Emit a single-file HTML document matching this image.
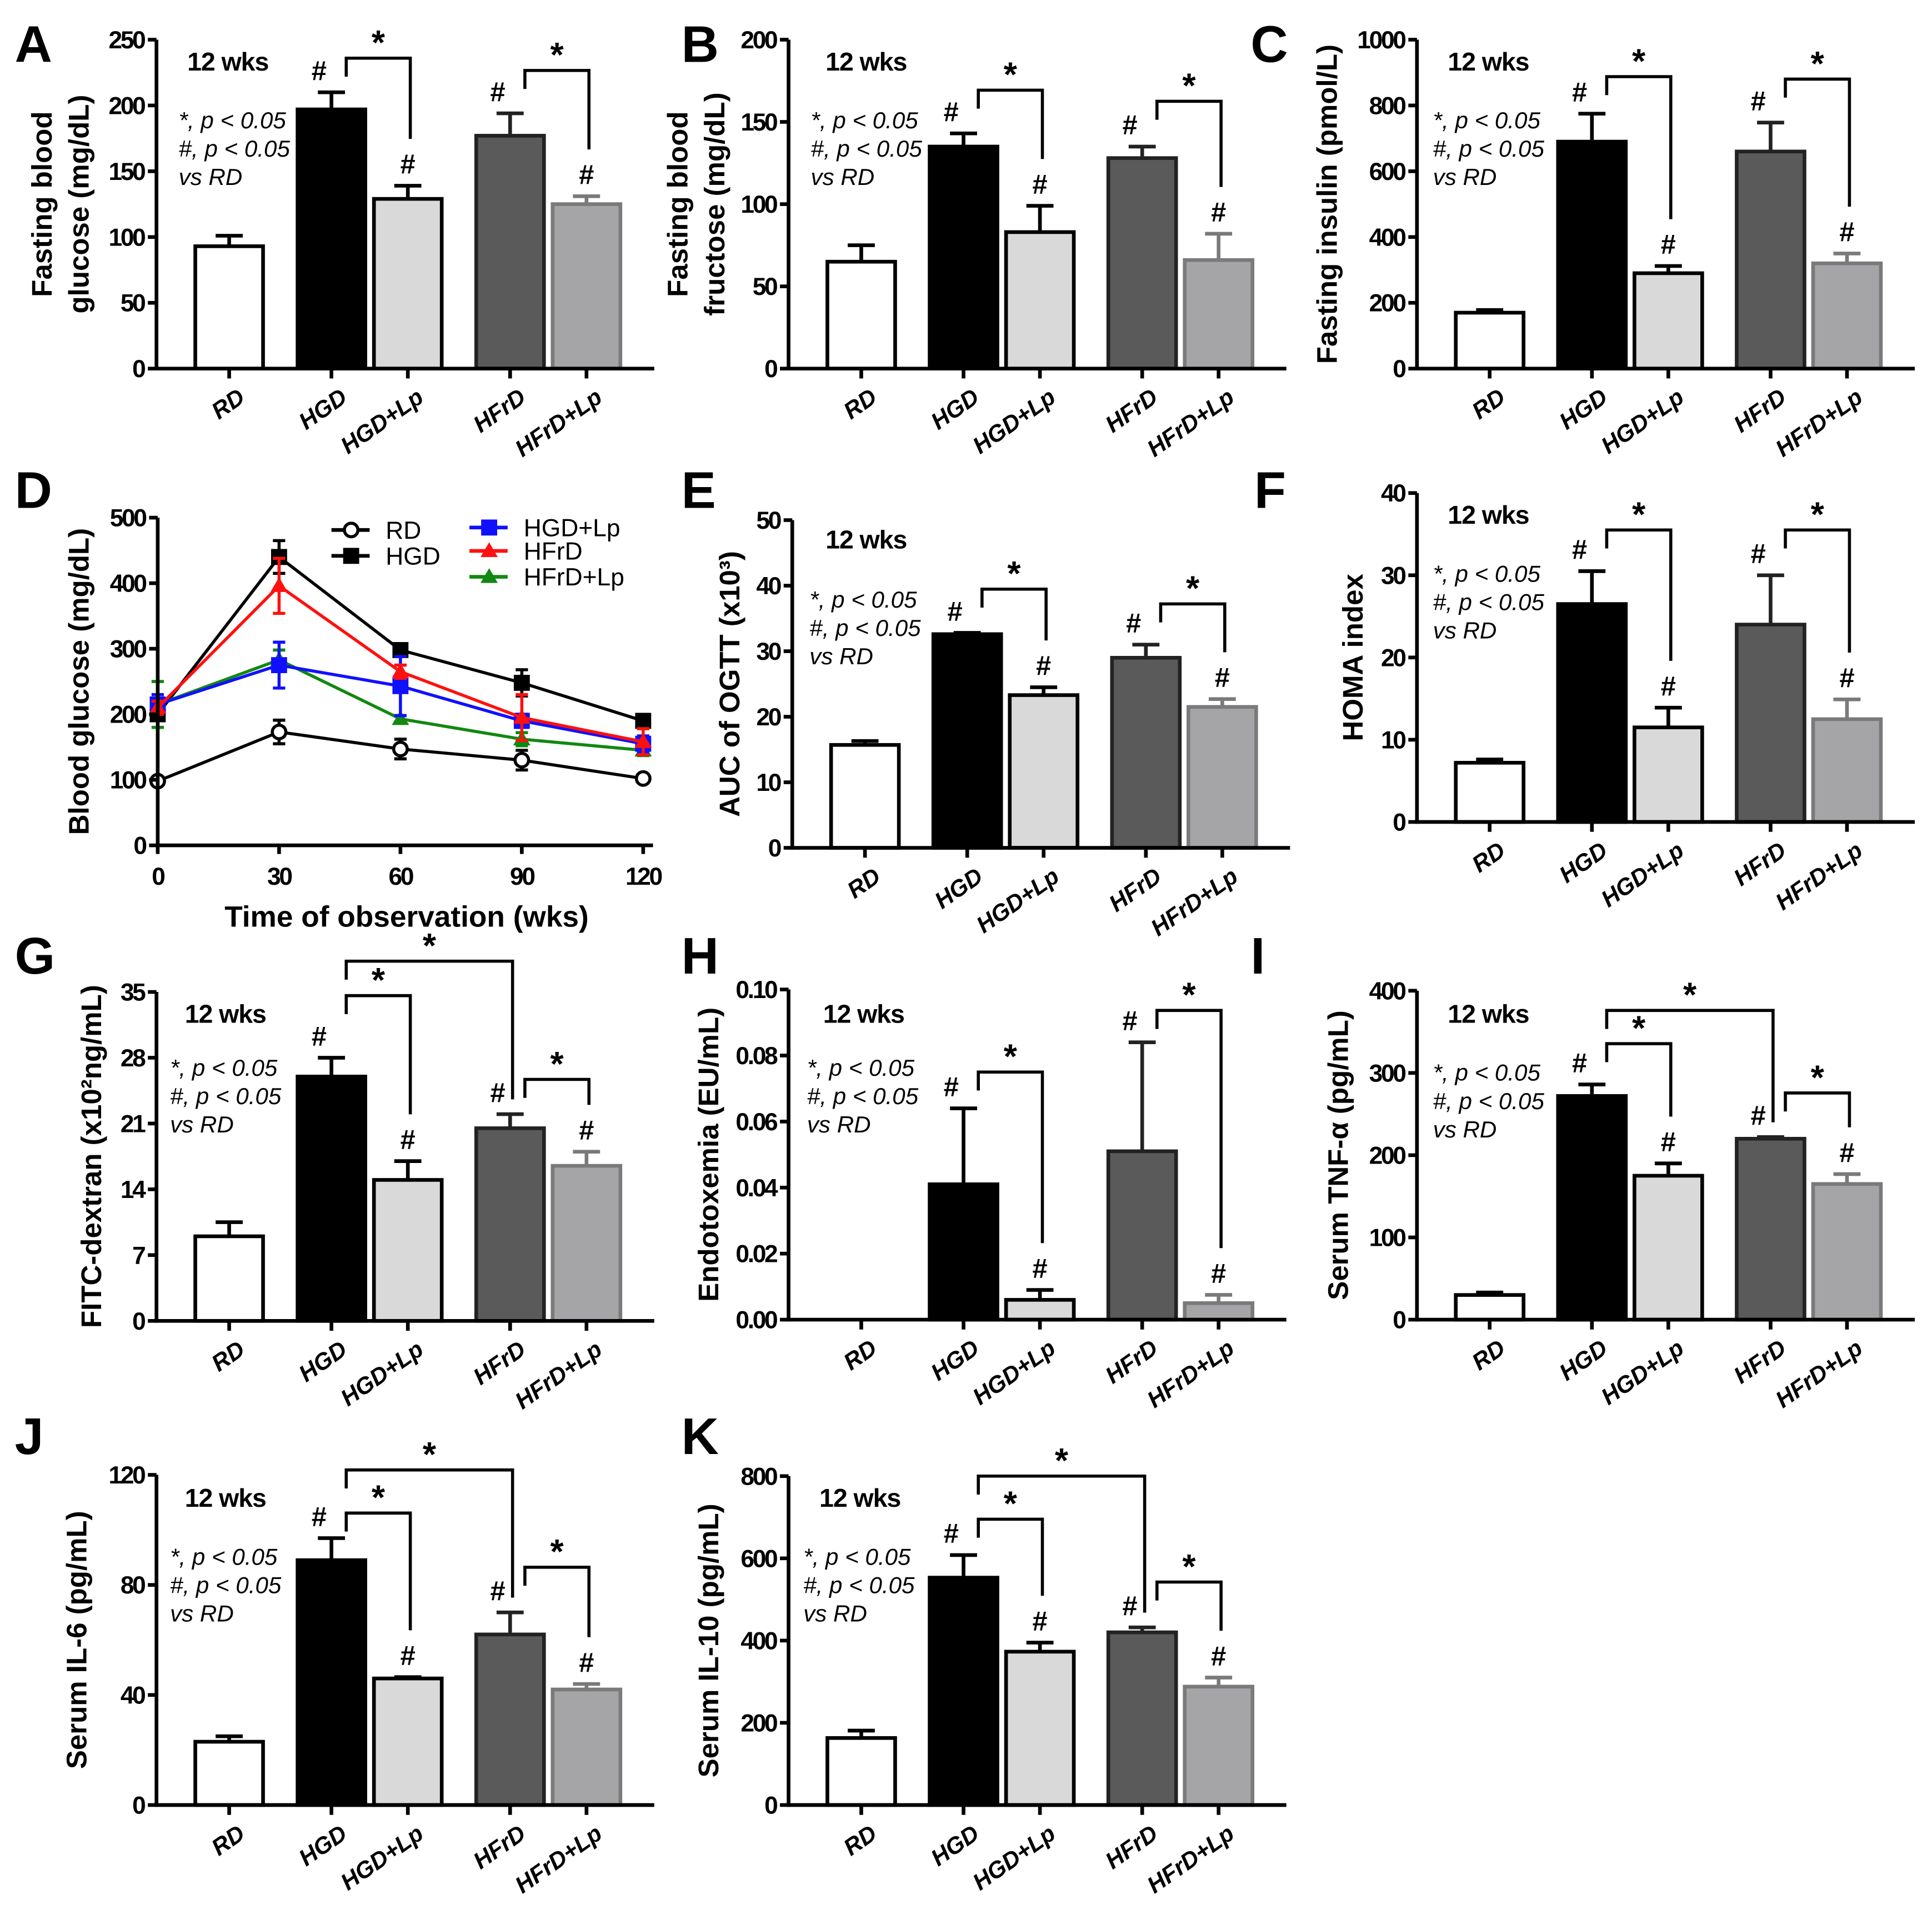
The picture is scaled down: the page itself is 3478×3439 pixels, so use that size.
<!DOCTYPE html>
<html><head><meta charset="utf-8"><style>
html,body{margin:0;padding:0;background:#fff}
svg{display:block}
text{font-family:"Liberation Sans",Arial,sans-serif}
.tick{font-size:20px;font-weight:bold;letter-spacing:-1.5px}
.xl{font-size:19px;font-weight:bold;font-style:italic}
.yt{font-size:23px;font-weight:bold}
.let{font-size:42px;font-weight:bold}
.wk{font-size:21px;font-weight:bold;letter-spacing:-0.5px}
.note{font-size:19px;font-style:italic}
.hash{font-size:22px;font-weight:bold}
.star{font-size:28px;font-weight:bold}
</style></head><body>
<svg id="fig" width="3478" height="3439" viewBox="0 0 1568 1550" xmlns="http://www.w3.org/2000/svg"></svg>
<script>
const groups=["RD","HGD","HGD+Lp","HFrD","HFrD+Lp"];
const valsA=[93,197,129,177,125], errA=[8,13,10,17,6];
const valsB=[65,135,83,128,66], errB=[10,8,16,7,16];
const valsC=[170,690,290,660,320], errC=[8,85,22,88,30];
const valsE=[15.7,32.6,23.3,29,21.5], errE=[0.6,0.2,1.2,2,1.2];
const valsF=[7.2,26.5,11.5,24,12.5], errF=[0.4,4,2.4,6,2.4];
const valsG=[9,26,15,20.5,16.5], errG=[1.5,2,2,1.5,1.5];
const valsH=[0,0.041,0.006,0.051,0.005], errH=[0,0.023,0.003,0.033,0.0025];
const valsI=[30,272,175,220,165], errI=[3,14,15,2,12];
const valsJ=[23,89,46,62,42], errJ=[2,8,0.5,8,2];
const valsK=[163,553,373,420,288], errK=[18,55,22,12,22];
const timesD=[0,30,60,90,120];
const seriesNames=["RD","HGD","HGD+Lp","HFrD","HFrD+Lp"];
const lineRD=[98,173,147,130,102], lineErrRD=[6,18,15,15,5];
const lineHGD=[200,440,298,248,190], lineErrHGD=[5,25,6,20,8];
const lineHGDLp=[215,275,243,190,155], lineErrHGDLp=[15,35,45,10,12];
const lineHFrD=[210,396,265,195,158], lineErrHFrD=[10,42,10,35,20];
const lineHFrDLp=[215,283,193,162,145], lineErrHFrDLp=[35,15,5,10,8];

const NS="http://www.w3.org/2000/svg";
const svg=document.getElementById('fig');
function el(tag,attrs,parent){const e=document.createElementNS(NS,tag);for(const k in attrs)e.setAttribute(k,attrs[k]);(parent||svg).appendChild(e);return e;}
function txt(s,attrs,parent){const e=el('text',attrs,parent);e.textContent=s;return e;}

const fills=["#ffffff","#000000","#d9d9d9","#5a5a5a","#a5a5a8"];
const strokes=["#000","#000","#000","#222","#7a7a7a"];
const offs=[30,113,175,258,320];
const BW=58;

function barPanel(o){
  const g=el('g',{});
  
  
  const x0=o.x0,y0=o.y0,y1=o.y1,max=o.max;
  const y=v=>y0-(v/max)*(y0-y1);
  const xc=i=>x0+offs[i]+BW/2;
  o.vals.forEach((v,i)=>{
    if(v<=0)return;
    const top=y(v+o.errs[i]);
    const l=el('line',{x1:xc(i),x2:xc(i),y1:y(v),y2:top,stroke:strokes[i],'stroke-width':3},g);
    
    
    const c=el('line',{x1:xc(i)-11,x2:xc(i)+11,y1:top,y2:top,stroke:strokes[i],'stroke-width':3},g);
    
    
    const r=el('rect',{x:x0+offs[i]+1.5,y:y(v),width:BW-3,height:y0-y(v),fill:fills[i],stroke:strokes[i],'stroke-width':3},g);
    
    
    if(i>0){const h=txt('#',{x:(i===1||i===3)?xc(i)-10:xc(i),y:top-10,'text-anchor':'middle',class:'hash'},g);
      
      }
  });
  el('line',{x1:x0,x2:x0,y1:y0+1.5,y2:y1,stroke:'#000','stroke-width':3},g);
  el('line',{x1:x0,x2:x0+404,y1:y0,y2:y0,stroke:'#000','stroke-width':3},g);
  o.ticks.forEach((t,k)=>{
    el('line',{x1:x0-7,x2:x0,y1:y(t),y2:y(t),stroke:'#000','stroke-width':3},g);
    const tl=txt(o.tickLabels[k],{x:x0-10,y:y(t)+7,'text-anchor':'end',class:'tick'},g);
    
    
  });
  groups.forEach((gn,i)=>{
    el('line',{x1:xc(i),x2:xc(i),y1:y0,y2:y0+8,stroke:'#000','stroke-width':3},g);
    const t=txt(gn,{x:xc(i)+14,y:y0+26,'text-anchor':'end',class:'xl',transform:`rotate(-35 ${xc(i)+14} ${y0+26})`},g);
    
    
  });
  o.ytitle.forEach((s,k)=>{
    const tx=o.ytx[k],ty=(y0+y1)/2;
    const t=txt(s,{x:tx,y:ty,'text-anchor':'middle',class:'yt',transform:`rotate(-90 ${tx} ${ty})`},g);
    
    
  });
  const w=txt('12 wks',{x:o.wk[0],y:o.wk[1],class:'wk'},g);
  
  
  ["*, p < 0.05","#, p < 0.05","vs RD"].forEach((s,k)=>{
    const t=txt(s,{x:o.note[0],y:o.note[1]+k*23,class:'note'},g);
    
    
  });
  o.br.forEach(b=>{
    const [i,j,ty]=b;
    const xl=xc(i)+12, xr=xc(j)+2;
    const rb=y(o.vals[j]+o.errs[j])-(j===3||j===1?12:38);
    const p=el('path',{d:`M${xl} ${ty+15} L${xl} ${ty} L${xr} ${ty} L${xr} ${rb}`,fill:'none',stroke:'#000','stroke-width':2.5},g);
    
    
    const s=txt('*',{x:(xl+xr)/2,y:ty-3,'text-anchor':'middle',class:'star'},g);
    
    
  });
}

function letter(s,x,y){const t=txt(s,{x:x,y:y,class:'let'});}

const range=(a,b,s)=>{const r=[];for(let v=a;v<=b+1e-9;v+=s)r.push(+v.toFixed(4));return r;};

barPanel({name:'panel-a',x0:127,y0:299,y1:32,max:250,vals:valsA,errs:errA,ticks:range(0,250,50),tickLabels:range(0,250,50).map(String),ytitle:['Fasting blood','glucose (mg/dL)'],ytx:[42,72],wk:[152,57],note:[145,104],br:[[1,2,47],[3,4,57]]});
barPanel({name:'panel-b',x0:640,y0:299,y1:32,max:200,vals:valsB,errs:errB,ticks:range(0,200,50),tickLabels:range(0,200,50).map(String),ytitle:['Fasting blood','fructose (mg/dL)'],ytx:[558,588],wk:[670,57],note:[658,104],br:[[1,2,73],[3,4,82]]});
barPanel({name:'panel-c',x0:1150,y0:299,y1:32,max:1000,vals:valsC,errs:errC,ticks:range(0,1000,200),tickLabels:range(0,1000,200).map(String),ytitle:['Fasting insulin (pmol/L)'],ytx:[1085],wk:[1175,57],note:[1163,104],br:[[1,2,62],[3,4,64]]});
barPanel({name:'panel-e',x0:643,y0:688,y1:422,max:50,vals:valsE,errs:errE,ticks:range(0,50,10),tickLabels:range(0,50,10).map(String),ytitle:['AUC of OGTT (x10³)'],ytx:[600],wk:[670,445],note:[657,493],br:[[1,2,478],[3,4,490]]});
barPanel({name:'panel-f',x0:1150,y0:667,y1:400,max:40,vals:valsF,errs:errF,ticks:range(0,40,10),tickLabels:range(0,40,10).map(String),ytitle:['HOMA index'],ytx:[1106],wk:[1175,425],note:[1163,472],br:[[1,2,430],[3,4,430]]});
barPanel({name:'panel-g',x0:127,y0:1072,y1:805,max:35,vals:valsG,errs:errG,ticks:range(0,35,7),tickLabels:range(0,35,7).map(String),ytitle:['FITC-dextran (x10²ng/mL)'],ytx:[82],wk:[150,830],note:[138,873],br:[[1,2,808],[1,3,780],[3,4,876]]});
barPanel({name:'panel-h',x0:640,y0:1071,y1:803,max:0.10,vals:valsH,errs:errH,ticks:range(0,0.1,0.02),tickLabels:range(0,0.1,0.02).map(v=>v.toFixed(2)),ytitle:['Endotoxemia (EU/mL)'],ytx:[583],wk:[668,830],note:[655,873],br:[[1,2,870],[3,4,820]]});
barPanel({name:'panel-i',x0:1150,y0:1071,y1:804,max:400,vals:valsI,errs:errI,ticks:range(0,400,100),tickLabels:range(0,400,100).map(String),ytitle:['Serum TNF-α (pg/mL)'],ytx:[1094],wk:[1175,830],note:[1163,877],br:[[1,2,847],[1,3,820],[3,4,887]]});
barPanel({name:'panel-j',x0:127,y0:1465,y1:1197,max:120,vals:valsJ,errs:errJ,ticks:range(0,120,40),tickLabels:range(0,120,40).map(String),ytitle:['Serum IL-6 (pg/mL)'],ytx:[70],wk:[150,1223],note:[138,1270],br:[[1,2,1228],[1,3,1193],[3,4,1272]]});
barPanel({name:'panel-k',x0:640,y0:1465,y1:1198,max:800,vals:valsK,errs:errK,ticks:range(0,800,200),tickLabels:range(0,800,200).map(String),ytitle:['Serum IL-10 (pg/mL)'],ytx:[583],wk:[665,1223],note:[652,1270],br:[[1,2,1233],[1,3,1198],[3,4,1284]]});

(function(){
  const g=el('g',{});
  
  
  const x0=128,x1=522,y0=686,y1=420;
  const X=t=>x0+(t/120)*(x1-x0), Y=v=>y0-(v/500)*(y0-y1);
  const series=[[lineRD,lineErrRD,'#000','circle'],[lineHGD,lineErrHGD,'#000','square'],[lineHFrDLp,lineErrHFrDLp,'#118811','tri'],[lineHGDLp,lineErrHGDLp,'#1010ff','square'],[lineHFrD,lineErrHFrD,'#ff1010','tri']];
  const names=["RD","HGD","HFrD+Lp","HGD+Lp","HFrD"];
  function marker(kind,x,y,c,par){
    let m;
    if(kind==='circle')m=el('circle',{cx:x,cy:y,r:5.5,fill:'#fff',stroke:c,'stroke-width':2.5},par);
    else if(kind==='square')m=el('rect',{x:x-6.5,y:y-6.5,width:13,height:13,fill:c},par);
    else m=el('path',{d:`M${x} ${y-7} L${x+7} ${y+5} L${x-7} ${y+5}Z`,fill:c},par);
    return m;
  }
  series.forEach((s,k)=>{
    const [v,e,c,kind]=s;
    const sg=el('g',{},g);
    
    
    timesD.forEach((t,i)=>{
      el('line',{x1:X(t),x2:X(t),y1:Y(v[i]-e[i]),y2:Y(v[i]+e[i]),stroke:c,'stroke-width':2.5},sg);
      el('line',{x1:X(t)-5,x2:X(t)+5,y1:Y(v[i]+e[i]),y2:Y(v[i]+e[i]),stroke:c,'stroke-width':2.5},sg);
      el('line',{x1:X(t)-5,x2:X(t)+5,y1:Y(v[i]-e[i]),y2:Y(v[i]-e[i]),stroke:c,'stroke-width':2.5},sg);
    });
    el('polyline',{points:timesD.map((t,i)=>X(t)+','+Y(v[i])).join(' '),fill:'none',stroke:c,'stroke-width':2.5},sg);
    timesD.forEach((t,i)=>{const m=marker(kind,X(t),Y(v[i]),c,sg);});
  });
  el('line',{x1:x0,x2:x0,y1:y0+1.5,y2:y1,stroke:'#000','stroke-width':3},g);
  el('line',{x1:x0,x2:x1+8,y1:y0,y2:y0,stroke:'#000','stroke-width':3},g);
  range(0,500,100).forEach(t=>{
    el('line',{x1:x0-7,x2:x0,y1:Y(t),y2:Y(t),stroke:'#000','stroke-width':3},g);
    const tl=txt(String(t),{x:x0-10,y:Y(t)+7,'text-anchor':'end',class:'tick'},g);
    
    
  });
  timesD.forEach(t=>{
    el('line',{x1:X(t),x2:X(t),y1:y0,y2:y0+7,stroke:'#000','stroke-width':3},g);
    const tl=txt(String(t),{x:X(t),y:y0+32,'text-anchor':'middle',class:'tick'},g);
    
    
  });
  const xt=txt('Time of observation (wks)',{x:330,y:752,'text-anchor':'middle',class:'yt',style:'font-size:24px'},g);
  
  
  const yt=txt('Blood glucose (mg/dL)',{x:72,y:553,'text-anchor':'middle',class:'yt',transform:'rotate(-90 72 553)'},g);
  
  
  const leg=[["RD",270,430,'#000','circle'],["HGD",270,451,'#000','square'],["HGD+Lp",382,428,'#1010ff','square'],["HFrD",382,447,'#ff1010','tri'],["HFrD+Lp",382,468,'#118811','tri']];
  leg.forEach(l=>{
    const lg=el('g',{},g);
    
    
    el('line',{x1:l[1]-1,x2:l[1]+30,y1:l[2],y2:l[2],stroke:l[3],'stroke-width':3},lg);
    marker(l[4],l[1]+15,l[2],l[3],lg);
    txt(l[0],{x:l[1]+43,y:l[2]+7,style:'font-size:20px'},lg);
  });
})();

letter('A',12,50);letter('B',553,50);letter('C',1015,50);
letter('D',12,412);letter('E',553,412);letter('F',1018,412);
letter('G',12,790);letter('H',553,790);letter('I',1015,790);
letter('J',12,1180);letter('K',553,1180);
</script>
</body></html>
